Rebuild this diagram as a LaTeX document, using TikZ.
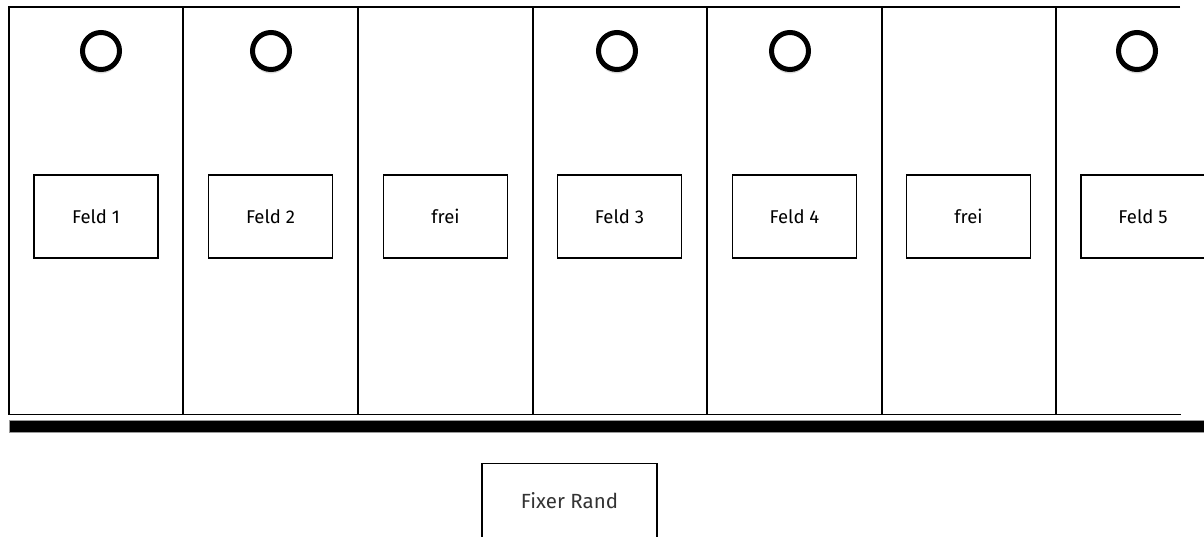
\documentclass[tikz,border=0pt]{standalone}
\usepackage{fontspec}
\setmainfont{Fira Sans}
\usetikzlibrary{shadows}
\begin{document}
\begin{tikzpicture}[x=1pt,y=-1pt,
  frame/.style={line width=1.5pt, draw=black},
  feld/.style={draw=black, line width=1.2pt, minimum width=124pt, minimum height=83pt, inner sep=0pt, font=\fontsize{18.5}{21}\selectfont},
  ring/.style={line width=5pt, draw=black, fill=white, drop shadow={shadow xshift=0pt, shadow yshift=-4pt, opacity=0.25, fill=black!60}},
  bar/.style={fill=black, draw=black!40, line width=1pt}
]
\useasboundingbox (0,0) rectangle (1204,536);
% frame
\draw[frame] (1180,7) -- (9,7) -- (9,414.5) -- (1181,414.5);
\foreach \x in {183,358,533,707,882,1056} \draw[frame] (\x,7) -- (\x,414.5);
% thick bar
\path[bar] (9,420) rectangle (1212,432);
% rings
\foreach \x in {101,271,617,790,1137} \path[ring] (\x,51) circle (18.5);
% boxes
\node[feld] (f1) at (96,216.5) {Feld 1};
\node[feld] (f2) at (270.5,216.5) {Feld 2};
\node[feld] (fr1) at (445.5,216.5) {frei};
\node[feld] (f3) at (619.5,216.5) {Feld 3};
\node[feld] (f4) at (794.5,216.5) {Feld 4};
\node[feld] (fr2) at (968.5,216.5) {frei};
\node[feld] (f5) at (1143,216.5) {Feld 5};
% fixer rand
\node[draw=black, line width=1.2pt, minimum width=175pt, minimum height=80pt, anchor=north, inner sep=0pt] (fixer) at (569.5,463) {};
\node[text=black!80, font=\fontsize{20.5}{24}\selectfont] (fixertext) at (569.5,501) {Fixer Rand};
\end{tikzpicture}
\end{document}
